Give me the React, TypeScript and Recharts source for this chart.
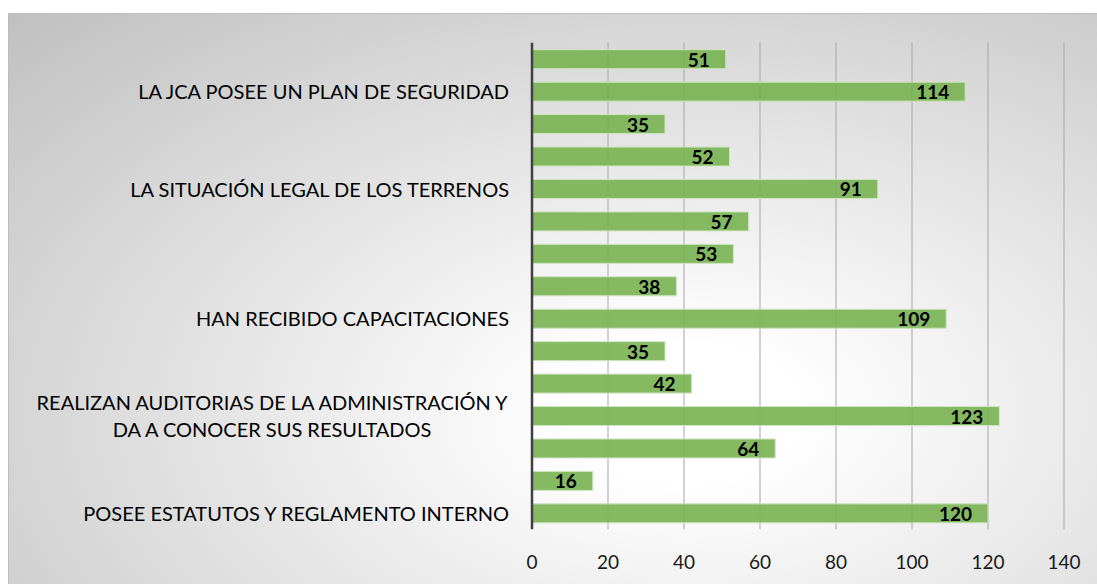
import React from "react";
import { BarChart, Bar, XAxis, YAxis, CartesianGrid, LabelList } from "recharts";

// rows from top to bottom, only some rows carry a label
const rowLabels: string[][] = [
  [],
  ["LA JCA POSEE UN PLAN DE SEGURIDAD"],
  [],
  [],
  ["LA SITUACIÓN LEGAL DE LOS TERRENOS"],
  [],
  [],
  [],
  ["HAN RECIBIDO CAPACITACIONES"],
  [],
  [],
  ["REALIZAN AUDITORIAS DE LA ADMINISTRACIÓN Y", "DA A CONOCER SUS RESULTADOS"],
  [],
  [],
  ["POSEE ESTATUTOS Y REGLAMENTO INTERNO"],
];
const values = [51, 114, 35, 52, 91, 57, 53, 38, 109, 35, 42, 123, 64, 16, 120];
const xTicks = [0, 20, 40, 60, 80, 100, 120, 140];

const chartData = values.map((v, i) => ({ id: i, value: v }));

const FONT = "Lato, 'Open Sans', sans-serif";
const LABEL_SIZE = 20;

let canvasCtx: CanvasRenderingContext2D | null = null;
function textWidth(s: string, size: number) {
  if (!canvasCtx) canvasCtx = document.createElement("canvas").getContext("2d");
  if (!canvasCtx) return s.length * size * 0.6;
  canvasCtx.font = `${size}px Lato`;
  return canvasCtx.measureText(s).width;
}

function CategoryTick(props: any) {
  const { x, y, payload } = props;
  const lines = rowLabels[payload.value] || [];
  if (!lines.length) return null;
  const lineH = 27;
  const startY = y - ((lines.length - 1) * lineH) / 2;
  const w = Math.max(...lines.map((l) => textWidth(l, LABEL_SIZE)));
  const cx = lines.length > 1 ? x - w / 2 : x;
  return (
    <g>
      {lines.map((l, i) => (
        <text
          key={i}
          x={cx}
          y={startY + i * lineH}
          textAnchor={lines.length > 1 ? "middle" : "end"}
          dominantBaseline="central"
          fontFamily={FONT}
          fontSize={LABEL_SIZE}
          fill="#000"
        >
          {l}
        </text>
      ))}
    </g>
  );
}

function ValueLabel(props: any) {
  const { x, y, width, height, value } = props;
  return (
    <text
      x={x + width - 16}
      y={y + height / 2}
      textAnchor="end"
      dominantBaseline="central"
      fontFamily={FONT}
      fontWeight="bold"
      fontSize={19}
      fill="#000"
    >
      {value}
    </text>
  );
}

export default function App() {
  return (
    <div
      style={{
        position: "absolute",
        left: 8,
        top: 13,
        width: 1088,
        height: 570,
        borderLeft: "1px solid #bdbdbd",
        borderTop: "1px solid #bdbdbd",
        background:
          "radial-gradient(ellipse farthest-corner at 62% 70%, #ffffff 0%, #ffffff 12%, #c0c0c0 100%)",
      }}
    >
      <BarChart
        width={1088}
        height={570}
        data={chartData}
        layout="vertical"
        margin={{ top: 28.7, right: 33, bottom: 14.7, left: 0 }}
      >
        <CartesianGrid horizontal={false} stroke="#a6a6a6" />
        <XAxis
          type="number"
          domain={[0, 140]}
          ticks={xTicks}
          axisLine={false}
          tickLine={false}
          tickSize={0}
          tickMargin={26}
          height={40}
          tick={{ fontFamily: FONT, fontSize: 19, fill: "#1a1a1a" }}
        />
        <YAxis
          type="category"
          dataKey="id"
          width={523}
          axisLine={{ stroke: "#404040", strokeWidth: 2.5 }}
          tickLine={false}
          tickSize={0}
          tickMargin={23}
          interval={0}
          tick={<CategoryTick />}
        />
        <Bar
          dataKey="value"
          barSize={19}
          fill="#78b352"
          fillOpacity={0.9}
          stroke="#cfe5c0"
          strokeWidth={1}
          isAnimationActive={false}
        >
          <LabelList dataKey="value" content={<ValueLabel />} />
        </Bar>
      </BarChart>
    </div>
  );
}
